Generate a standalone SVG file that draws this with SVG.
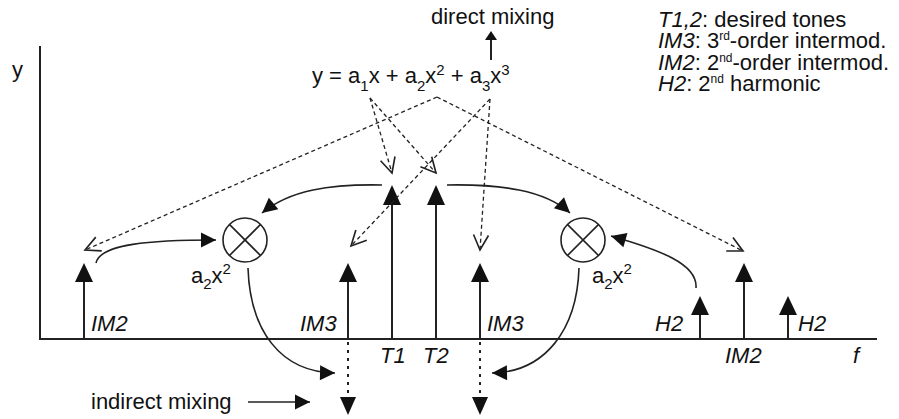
<svg xmlns="http://www.w3.org/2000/svg" width="899" height="419" viewBox="0 0 899 419">
<defs>
<style>
text{font-family:"Liberation Sans",Arial,sans-serif;font-size:22px;fill:#111}
.it{font-style:italic}
.sm{font-size:15px}
.sp{font-size:12px}
.ax{stroke:#222;stroke-width:2;fill:none}
.ln{stroke:#222;stroke-width:2;fill:none}
.cv{stroke:#222;stroke-width:1.6;fill:none}
.ds{stroke:#222;stroke-width:1.3;fill:none;stroke-dasharray:4 3}
.dt{stroke:#222;stroke-width:2;fill:none;stroke-dasharray:3 5}
.hd{fill:#111;stroke:none}
.mx{stroke:#222;stroke-width:1.6;fill:#fff}
</style>
<marker id="open" markerUnits="userSpaceOnUse" markerWidth="20" markerHeight="20" viewBox="-14 -8 16 16" refX="0" refY="0" orient="auto">
<path d="M -12 -6 L 0 0 L -12 6" fill="none" stroke="#222" stroke-width="1.3"/>
</marker>
<marker id="fill" markerUnits="userSpaceOnUse" markerWidth="20" markerHeight="20" viewBox="-14 -8 16 16" refX="0" refY="0" orient="auto">
<path d="M -12 -6 L 0 0 L -12 6 Z" fill="#111"/>
</marker>
</defs>

<g id="axes">
<line class="ax" x1="40" y1="46" x2="40" y2="339"/>
<line class="ax" x1="39" y1="339" x2="877" y2="339"/>
<text x="12" y="77">y</text>
<text class="it" x="853" y="363">f</text>
</g>

<g id="equation">
<text x="312" y="83">y = a<tspan class="sm" dy="8">1</tspan><tspan dy="-8">x + a</tspan><tspan class="sm" dy="8">2</tspan><tspan dy="-8">x</tspan><tspan class="sm" dy="-8">2</tspan><tspan dy="8"> + a</tspan><tspan class="sm" dy="8">3</tspan><tspan dy="-8">x</tspan><tspan class="sm" dy="-8">3</tspan></text>
</g>

<g id="direct-mixing">
<text x="431" y="24">direct mixing</text>
<line class="ln" x1="491" y1="60" x2="491" y2="40"/>
<polygon class="hd" points="491,31 485,40 497,40"/>
</g>

<g id="legend">
<text x="658" y="27"><tspan class="it">T1,2</tspan>: desired tones</text>
<text x="658" y="48"><tspan class="it">IM3</tspan>: 3<tspan class="sp" dy="-8">rd</tspan><tspan dy="8">-order intermod.</tspan></text>
<text x="658" y="70"><tspan class="it">IM2</tspan>: 2<tspan class="sp" dy="-8">nd</tspan><tspan dy="8">-order intermod.</tspan></text>
<text x="658" y="91"><tspan class="it">H2</tspan>: 2<tspan class="sp" dy="-8">nd</tspan><tspan dy="8"> harmonic</tspan></text>
</g>

<g id="IM2-left">
<line class="ln" x1="84" y1="339" x2="84" y2="280"/>
<polygon class="hd" points="84,263 75,282 93,282"/>
<text class="it" x="91" y="331">IM2</text>
</g>
<g id="IM3-left">
<line class="ln" x1="348" y1="339" x2="348" y2="280"/>
<polygon class="hd" points="348,263 339,282 357,282"/>
<text class="it" x="300" y="331">IM3</text>
</g>
<g id="T1">
<line class="ln" x1="392" y1="339" x2="392" y2="203"/>
<polygon class="hd" points="392,185 383,205 401,205"/>
<text class="it" x="380" y="363">T1</text>
</g>
<g id="T2">
<line class="ln" x1="436" y1="339" x2="436" y2="203"/>
<polygon class="hd" points="436,185 427,205 445,205"/>
<text class="it" x="423" y="363">T2</text>
</g>
<g id="IM3-right">
<line class="ln" x1="480" y1="339" x2="480" y2="280"/>
<polygon class="hd" points="480,263 471,282 489,282"/>
<text class="it" x="487" y="331">IM3</text>
</g>
<g id="H2-left">
<line class="ln" x1="700" y1="339" x2="700" y2="313"/>
<polygon class="hd" points="700,296 691,315 709,315"/>
<text class="it" x="655" y="331">H2</text>
</g>
<g id="IM2-right">
<line class="ln" x1="744" y1="339" x2="744" y2="280"/>
<polygon class="hd" points="744,263 735,282 753,282"/>
<text class="it" x="725" y="363">IM2</text>
</g>
<g id="H2-right">
<line class="ln" x1="788" y1="339" x2="788" y2="313"/>
<polygon class="hd" points="788,296 779,315 797,315"/>
<text class="it" x="798" y="331">H2</text>
</g>

<g id="mixer-left">
<circle class="mx" cx="245" cy="240" r="22"/>
<line class="cv" x1="229.4" y1="224.4" x2="260.6" y2="255.6"/>
<line class="cv" x1="260.6" y1="224.4" x2="229.4" y2="255.6"/>
<text x="191" y="283">a<tspan class="sm" dy="6">2</tspan><tspan dy="-6">x</tspan><tspan class="sm" dy="-9">2</tspan></text>
</g>
<g id="mixer-right">
<circle class="mx" cx="583" cy="240" r="22"/>
<line class="cv" x1="567.4" y1="224.4" x2="598.6" y2="255.6"/>
<line class="cv" x1="598.6" y1="224.4" x2="567.4" y2="255.6"/>
<text x="592" y="283">a<tspan class="sm" dy="6">2</tspan><tspan dy="-6">x</tspan><tspan class="sm" dy="-9">2</tspan></text>
</g>

<g id="indirect-mixing-outputs">
<line class="dt" x1="348" y1="342" x2="348" y2="398"/>
<polygon class="hd" points="348,415 340,397 356,397"/>
<line class="dt" x1="480" y1="342" x2="480" y2="398"/>
<polygon class="hd" points="480,415 472,397 488,397"/>
</g>

<g id="indirect-mixing-label">
<text x="91" y="409">indirect mixing</text>
<line class="cv" x1="248" y1="402" x2="310" y2="402" marker-end="url(#fill)"/>
</g>

<g id="connectors">
<path class="cv" d="M 248 268 C 250 330 280 372 335 373" marker-end="url(#fill)"/>
<path class="cv" d="M 579 268 C 577 330 545 372 492 373" marker-end="url(#fill)"/>
<path class="cv" d="M 96 263 C 100 244 150 240 216 240" marker-end="url(#fill)"/>
<path class="cv" d="M 382 185 C 330 184 290 190 262 213" marker-end="url(#fill)"/>
<path class="cv" d="M 447 185 C 500 184 545 190 570 213" marker-end="url(#fill)"/>
<path class="cv" d="M 696 288 C 698 264 660 250 611 236" marker-end="url(#fill)"/>

<line class="ds" x1="370" y1="98" x2="392" y2="173" marker-end="url(#open)"/>
<line class="ds" x1="370" y1="98" x2="436" y2="173" marker-end="url(#open)"/>
<line class="ds" x1="437" y1="97" x2="85" y2="250" marker-end="url(#open)"/>
<line class="ds" x1="437" y1="97" x2="743" y2="251" marker-end="url(#open)"/>
<line class="ds" x1="490" y1="99" x2="351" y2="246" marker-end="url(#open)"/>
<line class="ds" x1="490" y1="99" x2="480" y2="250" marker-end="url(#open)"/>
</g>
</svg>
